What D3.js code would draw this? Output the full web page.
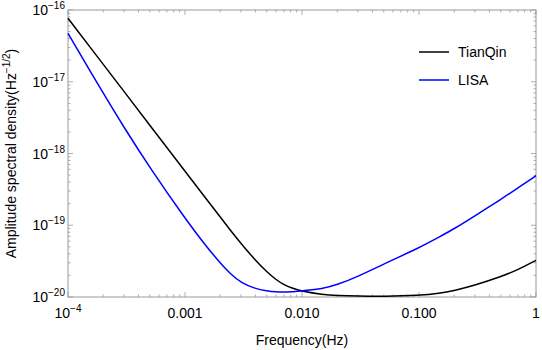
<!DOCTYPE html>
<html>
<head>
<meta charset="utf-8">
<script src="https://cdn.jsdelivr.net/npm/d3@7"></script>
<style>
  body { margin: 0; background: #fff; }
  text { font-family: "Liberation Sans", Arial, sans-serif; fill: #000; }
</style>
</head>
<body>
<script>
// frequencies (Hz) shared by both curves
const freq = [1e-4, 2e-4, 3e-4, 5e-4, 1e-3, 1.5e-3, 2e-3, 2.5e-3, 3e-3, 4e-3, 5e-3, 6e-3, 7e-3, 8e-3,
  1e-2, 1.5e-2, 2e-2, 3e-2, 5e-2, 0.1, 0.15, 0.2, 0.3, 0.5, 0.7, 1];

// amplitude spectral density
const tianqin = [7.66e-17, 1.75e-17, 7.38e-18, 2.48e-18, 5.68e-19, 2.40e-19, 1.30e-19, 8.13e-20, 5.62e-20,
  3.24e-20, 2.24e-20, 1.74e-20, 1.48e-20, 1.35e-20, 1.20e-20, 1.08e-20, 1.05e-20, 1.03e-20, 1.02e-20,
  1.05e-20, 1.12e-20, 1.23e-20, 1.46e-20, 1.91e-20, 2.40e-20, 3.24e-20];
const lisa = [4.73e-17, 6.89e-18, 2.33e-18, 6.34e-19, 1.245e-19, 5.21e-20, 2.97e-20, 2.03e-20, 1.59e-20,
  1.30e-20, 1.22e-20, 1.18e-20, 1.17e-20, 1.175e-20, 1.22e-20, 1.30e-20, 1.48e-20, 1.93e-20, 2.88e-20,
  4.84e-20, 6.92e-20, 8.91e-20, 1.35e-19, 2.29e-19, 3.31e-19, 4.90e-19];

const seriesNames = ["TianQin", "LISA"];
const seriesColors = ["#000000", "#0000ff"];

const xTicks = [1e-4, 1e-3, 1e-2, 1e-1, 1];
const xTickLabels = [null, "0.001", "0.010", "0.100", "1"]; // null -> 10^-4
const yTicks = [1e-20, 1e-19, 1e-18, 1e-17, 1e-16];
const yExponents = ["\u221220", "\u221219", "\u221218", "\u221217", "\u221216"];

const margin = {top: 10, right: 6, bottom: 53, left: 68};
const width = 542 - margin.left - margin.right;
const height = 350 - margin.top - margin.bottom;
const frameColor = "#999";

const svg = d3.select("body").append("svg")
  .attr("width", 542)
  .attr("height", 350);
const g = svg.append("g")
  .attr("transform", "translate(" + margin.left + "," + margin.top + ")");

const x = d3.scaleLog().domain([1e-4, 1]).range([0, width]);
const y = d3.scaleLog().domain([1e-20, 1e-16]).range([height, 0]);

// minor ticks: 2..9 inside each decade
function minors(lo, hi) {
  const out = [];
  for (let e = lo; e < hi; e++) {
    for (let k = 2; k <= 9; k++) out.push(k * Math.pow(10, e));
  }
  return out;
}
const xMinor = minors(-4, 0);
const yMinor = minors(-20, -16);

// ticks on all four sides, pointing inward
function tickLines(sel, vals, len, horiz) {
  vals.forEach(v => {
    if (horiz) {
      const px = x(v);
      sel.append("line").attr("x1", px).attr("x2", px).attr("y1", height).attr("y2", height - len);
      sel.append("line").attr("x1", px).attr("x2", px).attr("y1", 0).attr("y2", len);
    } else {
      const py = y(v);
      sel.append("line").attr("y1", py).attr("y2", py).attr("x1", 0).attr("x2", len);
      sel.append("line").attr("y1", py).attr("y2", py).attr("x1", width).attr("x2", width - len);
    }
  });
}
const tg = g.append("g").attr("stroke", frameColor).attr("stroke-width", 0.8);
tickLines(tg, xTicks, 5, true);
tickLines(tg, xMinor, 2.5, true);
tickLines(tg, yTicks, 5, false);
tickLines(tg, yMinor, 2.5, false);

// frame
g.append("rect")
  .attr("x", 0).attr("y", 0)
  .attr("width", width).attr("height", height)
  .attr("fill", "none")
  .attr("stroke", frameColor)
  .attr("stroke-width", 1);

// curves
const line = d3.line()
  .x(d => x(d[0]))
  .y(d => y(d[1]))
  .curve(d3.curveBasis);

[tianqin, lisa].forEach((vals, i) => {
  g.append("path")
    .datum(freq.map((f, j) => [f, vals[j]]))
    .attr("fill", "none")
    .attr("stroke", seriesColors[i])
    .attr("stroke-width", 1.5)
    .attr("d", line);
});

// x tick labels
xTicks.forEach((v, i) => {
  const t = g.append("text")
    .attr("x", x(v))
    .attr("y", height + 21)
    .attr("text-anchor", "middle")
    .style("font-size", "14px");
  if (xTickLabels[i] === null) {
    t.append("tspan").text("10");
    t.append("tspan").attr("dy", -6).style("font-size", "10px").text("\u22124");
  } else {
    t.text(xTickLabels[i]);
  }
});

// y tick labels
yTicks.forEach((v, i) => {
  const t = g.append("text")
    .attr("x", -3)
    .attr("y", y(v) + 5)
    .attr("text-anchor", "end")
    .style("font-size", "14px");
  t.append("tspan").text("10");
  t.append("tspan").attr("dy", -6).style("font-size", "10px").text(yExponents[i]);
});

// axis titles
svg.append("text")
  .attr("x", margin.left + width / 2)
  .attr("y", 345)
  .attr("text-anchor", "middle")
  .style("font-size", "14px")
  .text("Frequency(Hz)");

const yt = svg.append("text")
  .attr("transform", "translate(16," + (margin.top + height / 2) + ") rotate(-90)")
  .attr("text-anchor", "middle")
  .style("font-size", "14px");
yt.append("tspan").text("Amplitude spectral density(Hz");
yt.append("tspan").attr("dy", -6).style("font-size", "10px").text("\u22121/2");
yt.append("tspan").attr("dy", 6).text(")");

// legend
const lg = svg.append("g").attr("transform", "translate(419,52)");
seriesNames.forEach((name, i) => {
  lg.append("line")
    .attr("x1", 0).attr("x2", 30)
    .attr("y1", i * 28).attr("y2", i * 28)
    .attr("stroke", seriesColors[i])
    .attr("stroke-width", 1.5);
  lg.append("text")
    .attr("x", 39)
    .attr("y", i * 28 + 5)
    .style("font-size", "14px")
    .text(name);
});
</script>
</body>
</html>
